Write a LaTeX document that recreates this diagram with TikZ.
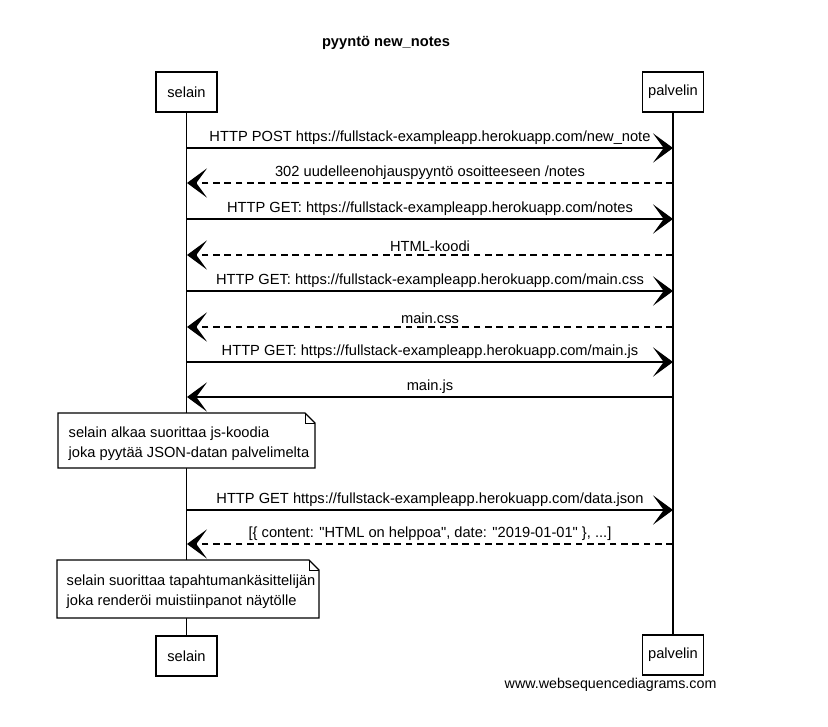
\documentclass[tikz,border=0pt]{standalone}
\usepackage{fontspec}
\setmainfont{Liberation Sans}[Ligatures=TeXOff]
\usetikzlibrary{arrows.meta}
\begin{document}
\begin{tikzpicture}[x=0.75pt,y=-0.75pt,
  every node/.style={font=\fontsize{11}{15}\selectfont},
  actor/.style={draw,line width=0.8pt,fill=white,minimum width=45.75pt,minimum height=30pt,inner sep=0pt},
  msg/.style={line width=1pt,-{Stealth[length=15pt,width=22pt,inset=8pt]}},
  reply/.style={msg,dash pattern=on 5pt off 3.5pt},
  lbl/.style={midway,above,inner sep=2pt},
  notebox/.style={draw,line width=0.8pt,fill=white},
  life/.style={line width=0.8pt}]
\useasboundingbox (0,0) rectangle (828,727);
\node[font=\fontsize{11}{13}\selectfont\bfseries] (title) at (386,43) {pyyntö new\_notes};
\node[actor] (selT) at (186.5,92) {selain};
\node[actor] (palT) at (673,92) {palvelin};
\node[actor] (selB) at (186.5,656) {selain};
\node[actor] (palB) at (673,655) {palvelin};
\draw[life] (selT.south) -- (selB.north);
\draw[life] (palT.south) -- (palB.north);
% message coordinates
\foreach \i/\y in {1/148,2/183,3/219,4/255,5/291,6/327,7/362,8/397,9/510,10/544}{
  \coordinate (s\i) at (187,\y);
  \coordinate (p\i) at (673,\y);
}
\draw[msg] (s1) -- (p1) node[lbl] {HTTP POST https://fullstack-exampleapp.herokuapp.com/new\_note};
\draw[reply] (p2) -- (s2) node[lbl] {302 uudelleenohjauspyyntö osoitteeseen /notes};
\draw[msg] (s3) -- (p3) node[lbl] {HTTP GET: https://fullstack-exampleapp.herokuapp.com/notes};
\draw[reply] (p4) -- (s4) node[lbl] {HTML-koodi};
\draw[msg] (s5) -- (p5) node[lbl] {HTTP GET: https://fullstack-exampleapp.herokuapp.com/main.css};
\draw[reply] (p6) -- (s6) node[lbl] {main.css};
\draw[msg] (s7) -- (p7) node[lbl] {HTTP GET: https://fullstack-exampleapp.herokuapp.com/main.js};
\draw[msg] (p8) -- (s8) node[lbl] {main.js};
\draw[msg] (s9) -- (p9) node[lbl] {HTTP GET https://fullstack-exampleapp.herokuapp.com/data.json};
\draw[reply] (p10) -- (s10) node[lbl] {[\{ content: "HTML on helppoa", date: "2019-01-01" \}, ...]};
% notes
\draw[notebox] (58,413) -- (305,413) -- (315,423) -- (315,468) -- (58,468) -- cycle;
\draw[line width=0.6pt] (305,413) -- (305,423) -- (315,423);
\node[anchor=west,align=left] (note1) at (64,444) {selain alkaa suorittaa js-koodia\\joka pyytää JSON-datan palvelimelta};
\draw[notebox] (57,560) -- (309,560) -- (319,570) -- (319,618) -- (57,618) -- cycle;
\draw[line width=0.6pt] (309,560) -- (309,570) -- (319,570);
\node[anchor=west,align=left] (note2) at (62,592) {selain suorittaa tapahtumankäsittelijän\\joka renderöi muistiinpanot näytölle};
\node[anchor=west,font=\fontsize{10.7}{13}\selectfont] (wsd) at (500,685) {www.websequencediagrams.com};
\end{tikzpicture}
\end{document}
